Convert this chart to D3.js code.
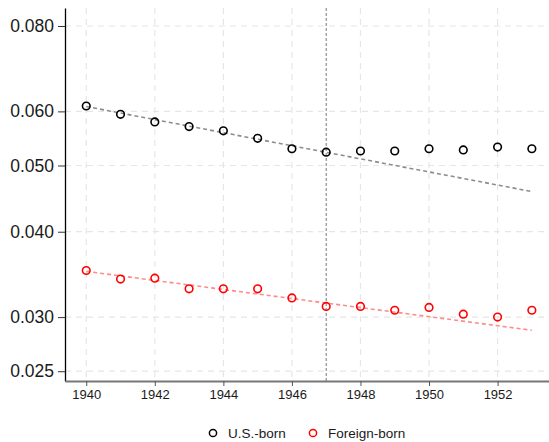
<!DOCTYPE html>
<html>
<head>
<meta charset="utf-8">
<script src="https://cdn.jsdelivr.net/npm/d3@7"></script>
<style>
  body { margin: 0; background: #fff; }
  text { font-family: "Liberation Sans", Arial, sans-serif; }
</style>
</head>
<body>
<svg id="chart"></svg>
<script>
const years = [1940, 1941, 1942, 1943, 1944, 1945, 1946, 1947, 1948, 1949, 1950, 1951, 1952, 1953];
const usBorn = [0.0611, 0.0594, 0.0579, 0.0570, 0.0562, 0.0548, 0.0529, 0.0523, 0.0525, 0.0525, 0.0529, 0.0527, 0.0532, 0.0529];
const foreignBorn = [0.0351, 0.0341, 0.0342, 0.0330, 0.0330, 0.0330, 0.0320, 0.0311, 0.0311, 0.0307, 0.0310, 0.0303, 0.0300, 0.0307];
// pre-period trend lines, extended to the end of the sample
const trendYears = [1940, 1953];
const usTrend = [0.0610, 0.0458];
const foreignTrend = [0.0350, 0.0287];
const yTicks = [0.025, 0.030, 0.040, 0.050, 0.060, 0.080];
const xTicks = [1940, 1942, 1944, 1946, 1948, 1950, 1952];
const breakYear = 1947;

const width = 549, height = 442;
const margin = {top: 8, right: 0, bottom: 61, left: 65};

const svg = d3.select("#chart").attr("width", width).attr("height", height);

const x = d3.scaleLinear()
    .domain([1939.38, 1953.5])
    .range([margin.left, width - margin.right]);
const y = d3.scaleLog()
    .domain([0.02419, 0.0850])
    .range([height - margin.bottom, margin.top]);

// grid
const grid = svg.append("g")
    .attr("stroke", "#e6e6e6")
    .attr("stroke-width", 1.2)
    .attr("stroke-dasharray", "6,5");
grid.selectAll(".gx")
    .data(xTicks)
    .join("line")
    .attr("x1", d => x(d)).attr("x2", d => x(d))
    .attr("y1", margin.top).attr("y2", height - margin.bottom);
grid.selectAll(".gy")
    .data(yTicks)
    .join("line")
    .attr("x1", margin.left).attr("x2", width - margin.right)
    .attr("y1", d => y(d)).attr("y2", d => y(d));

// break line
svg.append("line")
    .attr("x1", x(breakYear)).attr("x2", x(breakYear))
    .attr("y1", margin.top).attr("y2", height - margin.bottom)
    .attr("stroke", "#777")
    .attr("stroke-width", 1)
    .attr("stroke-dasharray", "3,2");

// trend lines
const line = d3.line().x(d => x(d[0])).y(d => y(d[1]));
svg.append("path")
    .datum(trendYears.map((t, i) => [t, usTrend[i]]))
    .attr("d", line)
    .attr("fill", "none")
    .attr("stroke", "#8c8c8c")
    .attr("stroke-width", 1.6)
    .attr("stroke-dasharray", "4,3");
svg.append("path")
    .datum(trendYears.map((t, i) => [t, foreignTrend[i]]))
    .attr("d", line)
    .attr("fill", "none")
    .attr("stroke", "#ff8a8a")
    .attr("stroke-width", 1.6)
    .attr("stroke-dasharray", "4,3");

// points
const series = [
    {name: "U.S.-born", values: usBorn, color: "#000"},
    {name: "Foreign-born", values: foreignBorn, color: "#ff0000"}
];
series.forEach(s => {
    svg.append("g").selectAll("circle")
        .data(s.values.map((v, i) => [years[i], v]))
        .join("circle")
        .attr("cx", d => x(d[0]))
        .attr("cy", d => y(d[1]))
        .attr("r", 3.8)
        .attr("fill", "none")
        .attr("stroke", s.color)
        .attr("stroke-width", 1.6);
});

// y axis
const yAxis = svg.append("g")
    .attr("transform", `translate(${margin.left},0)`)
    .call(d3.axisLeft(y).tickValues(yTicks).tickFormat(d3.format(".3f")).tickSize(7).tickSizeOuter(0));
yAxis.select(".domain").attr("stroke", "#000").attr("stroke-width", 1.3);
yAxis.selectAll(".tick line").attr("stroke", "#333").attr("stroke-width", 1);
yAxis.selectAll(".tick text")
    .attr("x", -11)
    .attr("fill", "#1a1a1a")
    .style("font-size", "17.5px");

// x axis
const xAxis = svg.append("g")
    .attr("transform", `translate(0,${height - margin.bottom})`)
    .call(d3.axisBottom(x).tickValues(xTicks).tickFormat(d3.format("d")).tickSize(5).tickSizeOuter(0));
xAxis.select(".domain").attr("stroke", "#777").attr("stroke-width", 2);
xAxis.selectAll(".tick line").attr("stroke", "#555").attr("stroke-width", 1);
xAxis.selectAll(".tick text")
    .attr("y", 9)
    .attr("fill", "#1a1a1a")
    .style("font-size", "13px");

// legend
const legend = svg.append("g");
const legendPos = [213, 313];
series.forEach((s, i) => {
    legend.append("circle")
        .attr("cx", legendPos[i]).attr("cy", 433)
        .attr("r", 3.6)
        .attr("fill", "none")
        .attr("stroke", s.color)
        .attr("stroke-width", 1.5);
    legend.append("text")
        .attr("x", legendPos[i] + 15).attr("y", 437.5)
        .attr("fill", "#1a1a1a")
        .style("font-size", "13.5px")
        .text(s.name);
});
</script>
</body>
</html>
